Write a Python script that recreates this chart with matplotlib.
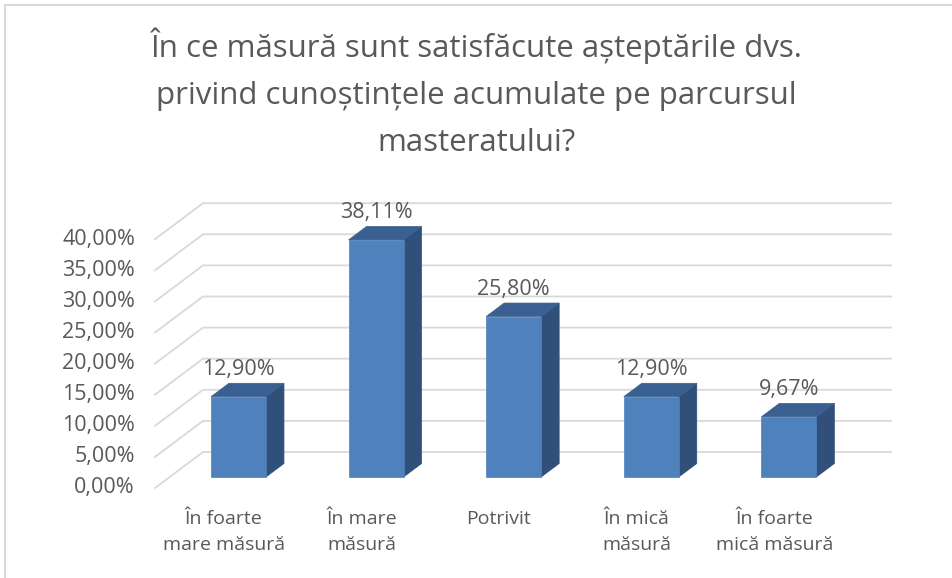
import matplotlib
matplotlib.use('Agg')
import matplotlib.pyplot as plt
from matplotlib.patches import Polygon
from matplotlib.lines import Line2D

# data
categories = ['În foarte\nmare măsură', 'În mare\nmăsură', 'Potrivit',
              'În mică\nmăsură', 'În foarte\nmică măsură']
values = [12.90, 38.11, 25.80, 12.90, 9.67]
yticks = [0, 5, 10, 15, 20, 25, 30, 35, 40]
title = ('În ce măsură sunt satisfăcute așteptările dvs.\n'
         'privind cunoștințele acumulate pe parcursul\nmasteratului?')

plt.rcParams['font.family'] = ['Open Sans', 'DejaVu Sans']

TXT = '#595959'
GRID = '#D9D9D9'
FRONT, SIDE, TOP = '#4F81BD', '#30507A', '#3A6091'

W, H = 953, 578
fig = plt.figure(figsize=(W / 100, H / 100), dpi=100)

# front plane: x in categories, y in percent
px_x, px_y = 137.6, 6.22
left, bottom = 155, H - 488
ax_w, ax_h = 745, 300
ax = fig.add_axes([left / W, bottom / H, ax_w / W, ax_h / H])
ax.set_xlim(-0.5, -0.5 + ax_w / px_x)
ax.set_ylim(0, ax_h / px_y)
ax.axis('off')

# oblique depth shift for full depth (0 = front, 1 = back wall)
DX, DY = 48 / px_x, 36 / px_y


def proj(x, y, d):
    return (x + DX * d, y + DY * d)


n = len(categories)
x_lo, x_hi = -0.5, n - 0.5

# gridlines: side wall diagonal + back wall
for t in yticks:
    pts = [proj(x_lo, t, 0), proj(x_lo, t, 1), proj(x_hi, t, 1)]
    ax.plot([p[0] for p in pts], [p[1] for p in pts], color=GRID, lw=1.3,
            solid_joinstyle='miter', clip_on=False, zorder=1)
    lbl = f'{t:.2f}%'.replace('.', ',')
    ax.text(x_lo - 20 / px_x, t, lbl, ha='right', va='center',
            fontsize=15.5, color=TXT)

# bars
bw = 0.2
d0, d1 = 0.306, 0.68
for i, v in enumerate(values):
    x0, x1 = i - bw, i + bw
    front = [proj(x0, 0, d0), proj(x1, 0, d0), proj(x1, v, d0), proj(x0, v, d0)]
    side = [proj(x1, 0, d0), proj(x1, 0, d1), proj(x1, v, d1), proj(x1, v, d0)]
    top = [proj(x0, v, d0), proj(x1, v, d0), proj(x1, v, d1), proj(x0, v, d1)]
    for poly, col in [(side, SIDE), (top, TOP), (front, FRONT)]:
        ax.add_patch(Polygon(poly, closed=True, facecolor=col, edgecolor=col,
                             lw=0.5, zorder=3, clip_on=False))
    lx = proj(i, v, d0)[0]
    ly = proj(i, v, d1)[1] + 3.5 / px_y
    ax.text(lx, ly, f'{v:.2f}%'.replace('.', ','), ha='center', va='bottom',
            fontsize=15.5, color=TXT, zorder=4)
    ax.text(i, -22 / px_y, categories[i], ha='center', va='top',
            fontsize=14, color=TXT, linespacing=1.6)

fig.text(0.5, 1 - 28 / H, title, ha='center', va='top', fontsize=22.5,
         color=TXT, linespacing=1.72)

# chart border (top and left visible)
fig.add_artist(Line2D([5 / W, 5 / W, 1], [0, 1 - 5 / H, 1 - 5 / H],
                      transform=fig.transFigure, color=GRID, lw=1.5))

fig.savefig('out.png', dpi=100)
